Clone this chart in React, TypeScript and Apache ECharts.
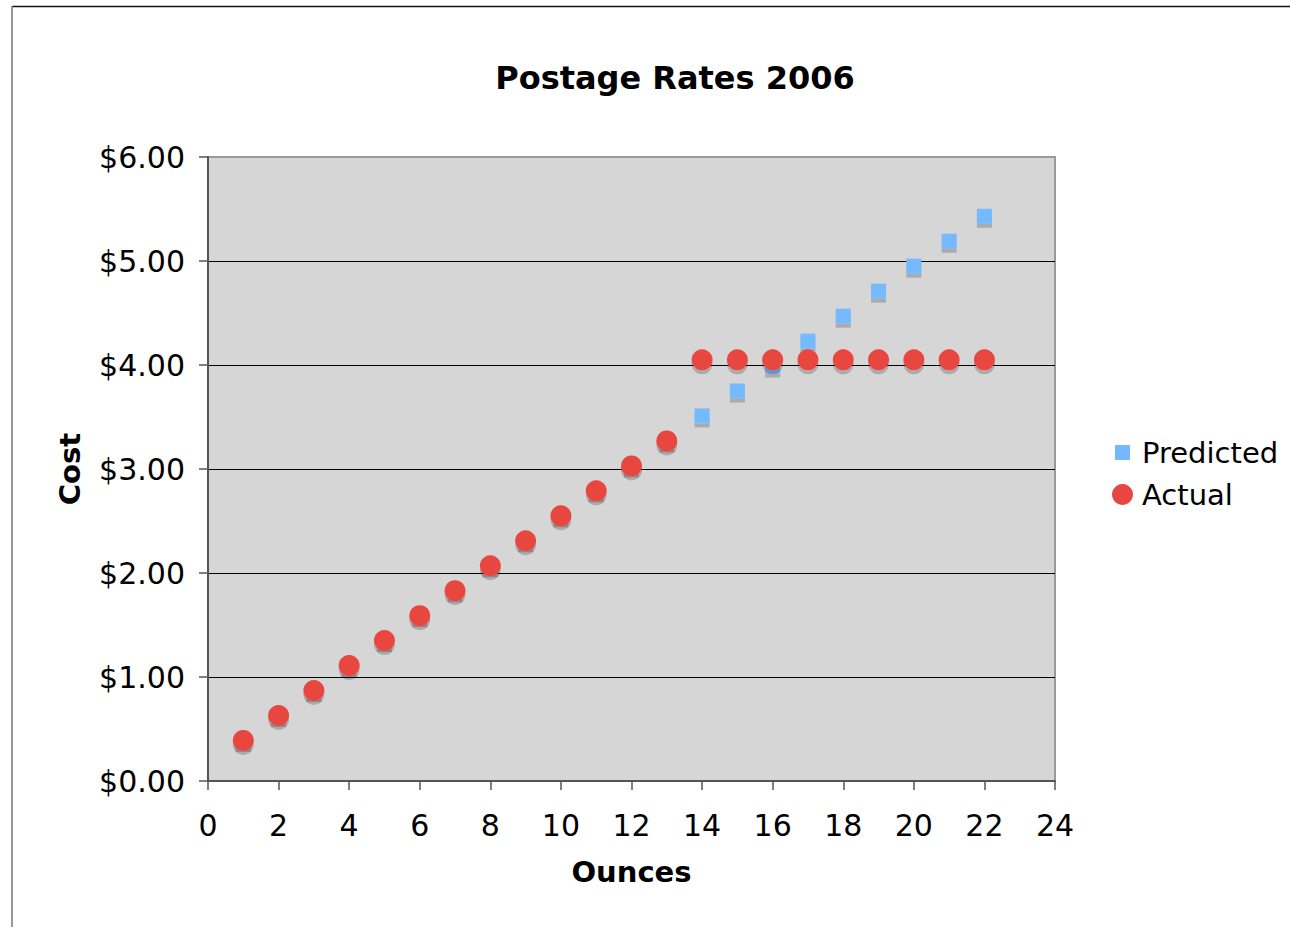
import React, { useEffect, useRef } from "react";
import * as echarts from "echarts";

const ounces = [1, 2, 3, 4, 5, 6, 7, 8, 9, 10, 11, 12, 13, 14, 15, 16, 17, 18, 19, 20, 21, 22];
const predicted = [0.39, 0.63, 0.87, 1.11, 1.35, 1.59, 1.83, 2.07, 2.31, 2.55, 2.79, 3.03, 3.27, 3.51, 3.75, 3.99, 4.23, 4.47, 4.71, 4.95, 5.19, 5.43];
const actual = [0.39, 0.63, 0.87, 1.11, 1.35, 1.59, 1.83, 2.07, 2.31, 2.55, 2.79, 3.03, 3.27, 4.05, 4.05, 4.05, 4.05, 4.05, 4.05, 4.05, 4.05, 4.05];
const seriesNames = ["Predicted", "Actual"];
const titleText = "Postage Rates 2006";
const xName = "Ounces";
const yName = "Cost";

const FONT = "DejaVu Sans";

export default function App() {
  const ref = useRef<HTMLDivElement>(null);
  useEffect(() => {
    if (!ref.current) return;
    const chart = echarts.init(ref.current, null, { renderer: "svg" });
    const shadow = { shadowColor: "rgba(0,0,0,0.2)", shadowOffsetY: 4, shadowOffsetX: 0, shadowBlur: 0 };
    chart.setOption({
      animation: false,
      backgroundColor: "#ffffff",
      textStyle: { fontFamily: FONT },
      title: {
        text: titleText,
        left: 670,
        textAlign: "center",
        top: 57,
        textStyle: { fontFamily: FONT, fontSize: 32, fontWeight: "bold", color: "#000" },
      },
      grid: {
        left: 208,
        top: 157,
        width: 847,
        height: 624,
        show: true,
        backgroundColor: "#d6d6d6",
        borderColor: "#999999",
        borderWidth: 2,
      },
      legend: [
        {
          data: [seriesNames[0]],
          left: 1110,
          top: 433,
          itemWidth: 15,
          itemHeight: 15,
          icon: "rect",
          textStyle: { fontFamily: FONT, fontSize: 29, color: "#000", padding: [0, 0, 0, 7] },
        },
        {
          data: [seriesNames[1]],
          left: 1107,
          top: 475,
          itemWidth: 21,
          itemHeight: 21,
          icon: "circle",
          textStyle: { fontFamily: FONT, fontSize: 29, color: "#000", padding: [0, 0, 0, 4] },
        },
      ],
      xAxis: {
        type: "value",
        min: 0,
        max: 24,
        interval: 2,
        name: xName,
        nameLocation: "middle",
        nameGap: 76,
        nameTextStyle: { fontFamily: FONT, fontSize: 29, fontWeight: "bold", color: "#000" },
        axisLine: { show: true, lineStyle: { color: "#555", width: 2 } },
        axisTick: { show: true, length: 9, lineStyle: { color: "#555", width: 1.5 } },
        axisLabel: { fontFamily: FONT, fontSize: 30, color: "#000", margin: 29 },
        splitLine: { show: false },
      },
      yAxis: {
        type: "value",
        min: 0,
        max: 6,
        interval: 1,
        name: yName,
        nameLocation: "middle",
        nameGap: 124,
        nameRotate: 90,
        nameTextStyle: { fontFamily: FONT, fontSize: 29, fontWeight: "bold", color: "#000" },
        axisLine: { show: true, lineStyle: { color: "#555", width: 2 } },
        axisTick: { show: true, length: 9, lineStyle: { color: "#555", width: 1.5 } },
        axisLabel: {
          fontFamily: FONT,
          fontSize: 30,
          color: "#000",
          margin: 23,
          formatter: (v: number) => "$" + v.toFixed(2),
        },
        splitLine: { show: true, lineStyle: { color: "#000", width: 1 } },
      },
      series: [
        {
          name: seriesNames[0],
          type: "scatter",
          symbol: "rect",
          symbolSize: 15,
          data: ounces.map((x, i) => [x, predicted[i]]),
          itemStyle: { color: "#74b9ff", opacity: 1, ...shadow },
          z: 2,
        },
        {
          name: seriesNames[1],
          type: "scatter",
          symbol: "circle",
          symbolSize: 21,
          data: ounces.map((x, i) => [x, actual[i]]),
          itemStyle: { color: "#e84641", opacity: 1, ...shadow },
          z: 3,
        },
      ],
      graphic: [
        { type: "line", shape: { x1: 12, y1: 6.5, x2: 1290, y2: 6.5 }, style: { stroke: "#111", lineWidth: 1.5 } },
        { type: "line", shape: { x1: 12, y1: 6, x2: 12, y2: 927 }, style: { stroke: "#777", lineWidth: 1.5 } },
        { type: "line", z: 100, shape: { x1: 209, y1: 157, x2: 1056, y2: 157 }, style: { stroke: "#999999", lineWidth: 2 } },
      ],
    });
    return () => chart.dispose();
  }, []);
  return <div ref={ref} style={{ position: "absolute", left: 0, top: 0, width: 1290, height: 927 }} />;
}
